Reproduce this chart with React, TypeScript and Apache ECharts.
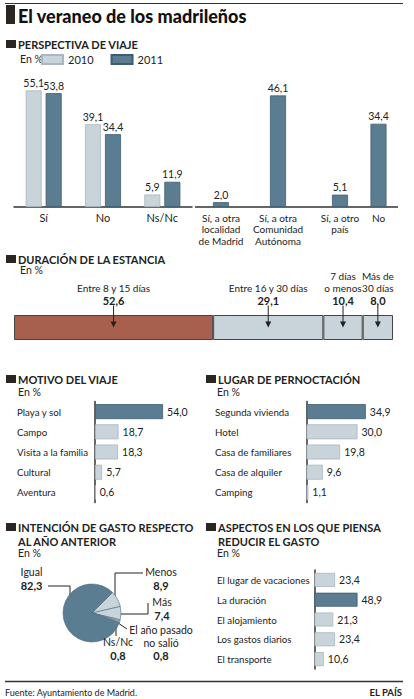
import React, { useEffect, useRef } from "react";
import * as echarts from "echarts";

const perspCats = ["Sí", "No", "Ns/Nc"];
const persp2010 = [55.1, 39.1, 5.9];
const persp2011 = [53.8, 34.4, 11.9];

const destCats = ["Sí, a otra\nlocalidad\nde Madrid", "Sí, a otra\nComunidad\nAutónoma", "Sí, a otro\npaís", "No"];
const destValues = [2.0, 46.1, 5.1, 34.4];

const durNames = ["Entre 8 y 15 días", "Entre 16 y 30 días", "7 días\no menos", "Más de\n30 días"];
const durValues = [52.6, 29.1, 10.4, 8.0];

const motivoCats = ["Playa y sol", "Campo", "Visita a la familia", "Cultural", "Aventura"];
const motivoValues = [54.0, 18.7, 18.3, 5.7, 0.6];

const lugarCats = ["Segunda vivienda", "Hotel", "Casa de familiares", "Casa de alquiler", "Camping"];
const lugarValues = [34.9, 30.0, 19.8, 9.6, 1.1];

const gastoNames = ["Menos", "Más", "El año pasado\nno salió", "Ns/Nc", "Igual"];
const gastoValues = [8.9, 7.4, 0.8, 0.8, 82.3];

const reducirCats = ["El lugar de vacaciones", "La duración", "El alojamiento", "Los gastos diarios", "El transporte"];
const reducirValues = [23.4, 48.9, 21.3, 23.4, 10.6];

const FONT = "Lato, 'Noto Sans', sans-serif";
const DARK = "#5b7d91";
const DARK_B = "#3f5d6f";
const LIGHT = "#c9d3da";
const LIGHT_B = "#aab7c0";
const RED = "#a6604d";
const INK = "#222";
const BLOCK = "#2b2622";

const fmt = (v: number) => v.toFixed(1).replace(".", ",");

const pieLabelPos: Record<string, { x: number; y: number; line: number[][] }> = {
  Igual: { x: 31.5, y: 566, line: [[70, 615], [70, 586], [48, 586]] },
  Menos: { x: 161, y: 566, line: [[115, 603], [115, 573], [143, 573]] },
  "Más": { x: 162, y: 596, line: [[117, 614], [148, 614], [148, 603]] },
  "El año pasado\nno salió": { x: 161, y: 624, line: [[117, 622], [121, 625], [127, 629]] },
  "Ns/Nc": { x: 118, y: 636, line: [[116, 624], [116, 630], [116, 636]] },
};

function header(x: number, y: number, lines: string[]) {
  const els: any[] = [
    { type: "rect", shape: { x: x, y: y - 4, width: 10, height: 8 }, style: { fill: BLOCK } },
  ];
  lines.forEach((t, i) => {
    els.push({
      type: "text",
      x: x + 12,
      y: y + i * 14,
      style: { text: t, fill: INK, font: `bold 11px ${FONT}`, verticalAlign: "middle", align: "left" },
    });
  });
  return els;
}

function enPct(x: number, y: number) {
  return {
    type: "text",
    x,
    y,
    style: { text: "En %", fill: INK, font: `10.5px ${FONT}`, verticalAlign: "middle", align: "left" },
  };
}

function hbar(values: number[], idx: number, width: number) {
  const mx = Math.max(...values);
  return {
    type: "bar",
    xAxisIndex: idx,
    yAxisIndex: idx,
    data: values.map((v) => ({
      value: v,
      itemStyle:
        v === mx
          ? { color: DARK, borderColor: DARK_B, borderWidth: 0.8 }
          : { color: LIGHT, borderColor: LIGHT_B, borderWidth: 0.8 },
    })),
    barWidth: width,
    label: {
      show: true,
      position: "right",
      distance: 4,
      color: INK,
      fontSize: 10.5,
      fontFamily: FONT,
      formatter: (p: any) => fmt(p.value),
    },
  };
}

const catLabel = (margin: number) => ({ align: "left", margin, fontSize: 9.7, color: INK, fontFamily: FONT });
const vLabel = { show: true, position: "top", distance: 2, color: INK, fontSize: 10.5, fontFamily: FONT, formatter: (p: any) => fmt(p.value) };

export default function App() {
  const ref = useRef<HTMLDivElement>(null);
  useEffect(() => {
    if (!ref.current) return;
    const chart = echarts.init(ref.current, null, { renderer: "svg" });
    const durTotal = durValues.reduce((a, b) => a + b, 0);
    const durMax = Math.max(...durValues);
    let cum = 0;
    const durSeries = durValues.map((v, i) => {
      const mid = cum + v / 2;
      cum += v;
      return {
        type: "bar",
        name: durNames[i],
        stack: "dur",
        xAxisIndex: 3,
        yAxisIndex: 3,
        data: [v],
        barWidth: 25,
        itemStyle: { color: v === durMax ? RED : LIGHT, borderColor: "#444", borderWidth: 1 },
        label: {
          show: true,
          position: "top",
          distance: 8,
          formatter: () => `{n|${durNames[i].split("\n").join("}\n{n|")}}\n{v|${fmt(v)}}`,
          rich: {
            n: { fontSize: 10, lineHeight: 12, color: INK, fontFamily: FONT, align: "center" },
            v: { fontSize: 11, lineHeight: 13, fontWeight: "bold", color: INK, fontFamily: FONT, align: "center" },
          },
        },
        markPoint: {
          symbol: "path://M2.5,0 L3.5,0 L3.5,16 L6,16 L3,22 L0,16 L2.5,16 Z",
          symbolSize: [6, 22],
          symbolOffset: [0, -11],
          itemStyle: { color: INK },
          label: { show: false },
          data: [{ coord: [mid, 0] }],
        },
      };
    });

    const graphic: any[] = [
      { type: "line", shape: { x1: 5, y1: 3.5, x2: 403, y2: 3.5 }, style: { stroke: "#333", lineWidth: 1.2 } },
      { type: "rect", shape: { x: 6, y: 5, width: 9, height: 19 }, style: { fill: BLOCK } },
      {
        type: "text",
        x: 18,
        y: 16,
        style: { text: "El veraneo de los madrileños", fill: "#111", font: `900 18px ${FONT}`, verticalAlign: "middle" },
      },
      ...header(6, 44, ["PERSPECTIVA DE VIAJE"]),
      enPct(20, 59),
      ...header(6, 259, ["DURACIÓN DE LA ESTANCIA"]),
      enPct(20, 270),
      ...header(6, 379, ["MOTIVO DEL VIAJE"]),
      enPct(18, 392),
      ...header(206, 379, ["LUGAR DE PERNOCTACIÓN"]),
      enPct(217, 392),
      ...header(6, 527, ["INTENCIÓN DE GASTO RESPECTO", "AL AÑO ANTERIOR"]),
      enPct(18, 553),
      ...header(206, 527, ["ASPECTOS EN LOS QUE PIENSA", "REDUCIR EL GASTO"]),
      enPct(217, 553),
      { type: "line", shape: { x1: 195, y1: 207, x2: 398, y2: 207 }, style: { stroke: "#333", lineWidth: 1.5 } },
      { type: "line", shape: { x1: 5, y1: 681.5, x2: 403, y2: 681.5 }, style: { stroke: "#333", lineWidth: 1.3 } },
      {
        type: "text",
        x: 5,
        y: 692,
        style: { text: "Fuente: Ayuntamiento de Madrid.", fill: INK, font: `9px ${FONT}`, verticalAlign: "middle" },
      },
      {
        type: "text",
        x: 402,
        y: 692,
        style: { text: "EL PAÍS", fill: INK, font: `bold 9.5px ${FONT}`, verticalAlign: "middle", align: "right" },
      },
    ];

    const hideAxis = { show: false };
    const option: any = {
      animation: false,
      textStyle: { fontFamily: FONT },
      legend: {
        data: ["2010", "2011"],
        left: 41,
        top: 54,
        icon: "rect",
        itemWidth: 21,
        itemHeight: 9,
        itemGap: 17,
        padding: 0,
        textStyle: { fontSize: 11, color: INK, fontFamily: FONT },
        selectedMode: false,
      },
      grid: [
        { left: 14, top: 80, width: 178, height: 127 },
        { left: 192.5, top: 86, width: 114, height: 121 },
        { left: 320.75, top: 86, width: 77, height: 121 },
        { left: 14, top: 315, width: 379, height: 25 },
        { left: 95, top: 401.5, width: 126, height: 101 },
        { left: 306.5, top: 401.5, width: 85, height: 101 },
        { left: 314.5, top: 570, width: 88, height: 99 },
      ],
      xAxis: [
        {
          type: "category",
          gridIndex: 0,
          data: perspCats,
          axisLine: { lineStyle: { color: "#333", width: 1.5 } },
          axisTick: { show: false },
          axisLabel: { fontSize: 11, color: INK, margin: 5, fontFamily: FONT },
        },
        {
          type: "category",
          gridIndex: 1,
          data: destCats.slice(0, 2),
          axisLine: { show: false },
          axisTick: { show: false },
          axisLabel: { fontSize: 10, lineHeight: 11.5, color: INK, margin: 5, fontFamily: FONT, interval: 0 },
        },
        {
          type: "category",
          gridIndex: 2,
          data: destCats.slice(2),
          axisLine: { show: false },
          axisTick: { show: false },
          axisLabel: { fontSize: 10, lineHeight: 11.5, color: INK, margin: 5, fontFamily: FONT, interval: 0 },
        },
        { type: "value", gridIndex: 3, min: 0, max: durTotal, ...hideAxis },
        { type: "value", gridIndex: 4, min: 0, max: 100, ...hideAxis },
        { type: "value", gridIndex: 5, min: 0, max: 50, ...hideAxis },
        { type: "value", gridIndex: 6, min: 0, max: 100, ...hideAxis },
      ],
      yAxis: [
        { type: "value", gridIndex: 0, min: 0, max: 60, ...hideAxis },
        { type: "value", gridIndex: 1, min: 0, max: 50, ...hideAxis },
        { type: "value", gridIndex: 2, min: 0, max: 50, ...hideAxis },
        { type: "category", gridIndex: 3, data: [""], ...hideAxis },
        {
          type: "category",
          gridIndex: 4,
          data: motivoCats,
          inverse: true,
          axisLine: { lineStyle: { color: "#333", width: 1.5 } },
          axisTick: { show: false },
          axisLabel: catLabel(78),
        },
        {
          type: "category",
          gridIndex: 5,
          data: lugarCats,
          inverse: true,
          axisLine: { lineStyle: { color: "#333", width: 1.5 } },
          axisTick: { show: false },
          axisLabel: catLabel(91.5),
        },
        {
          type: "category",
          gridIndex: 6,
          data: reducirCats,
          inverse: true,
          axisLine: { lineStyle: { color: "#333", width: 1.5 } },
          axisTick: { show: false },
          axisLabel: catLabel(97.5),
        },
      ],
      series: [
        {
          type: "bar",
          name: "2010",
          xAxisIndex: 0,
          yAxisIndex: 0,
          data: persp2010,
          barWidth: 16,
          barGap: "25%",
          itemStyle: { color: LIGHT, borderColor: LIGHT_B, borderWidth: 0.8 },
          label: vLabel,
        },
        {
          type: "bar",
          name: "2011",
          xAxisIndex: 0,
          yAxisIndex: 0,
          data: persp2011,
          barWidth: 16,
          barGap: "25%",
          itemStyle: { color: DARK, borderColor: DARK_B, borderWidth: 0.8 },
          label: vLabel,
        },
        {
          type: "bar",
          name: "2011",
          xAxisIndex: 1,
          yAxisIndex: 1,
          data: destValues.slice(0, 2),
          barWidth: 16,
          itemStyle: { color: DARK, borderColor: DARK_B, borderWidth: 0.8 },
          label: vLabel,
        },
        {
          type: "bar",
          name: "2011",
          xAxisIndex: 2,
          yAxisIndex: 2,
          data: destValues.slice(2),
          barWidth: 16,
          itemStyle: { color: DARK, borderColor: DARK_B, borderWidth: 0.8 },
          label: vLabel,
        },
        ...durSeries,
        hbar(motivoValues, 4, 15),
        hbar(lugarValues, 5, 15),
        hbar(reducirValues, 6, 14),
        {
          type: "pie",
          center: [92, 613],
          radius: 29,
          startAngle: 45,
          avoidLabelOverlap: false,
          data: gastoNames.map((n, i) => ({
            name: n,
            value: gastoValues[i],
            itemStyle: { color: n === "Igual" ? DARK : LIGHT },
          })),
          itemStyle: { borderColor: "#4d6b7d", borderWidth: 0.6 },
          label: {
            show: true,
            position: "outside",
            overflow: "none",
            formatter: (p: any) => `{n|${p.name.split("\n").join("}\n{n|")}}\n{v|${fmt(p.value)}}`,
            rich: {
              n: { fontSize: 10.5, lineHeight: 12.5, color: INK, fontFamily: FONT, align: "center" },
              v: { fontSize: 11, lineHeight: 13, fontWeight: "bold", color: INK, fontFamily: FONT, align: "center" },
            },
          },
          labelLine: { show: true, lineStyle: { color: INK, width: 1 } },
          labelLayout: (p: any) => {
            const L = pieLabelPos[gastoNames[p.dataIndex]];
            return { x: L.x, y: L.y, align: "center", verticalAlign: "top", labelLinePoints: L.line };
          },
        },
      ],
      graphic,
    };
    chart.setOption(option);
    return () => chart.dispose();
  }, []);
  return <div ref={ref} style={{ position: "fixed", left: 0, top: 0, width: 414, height: 699, background: "#fff" }} />;
}
